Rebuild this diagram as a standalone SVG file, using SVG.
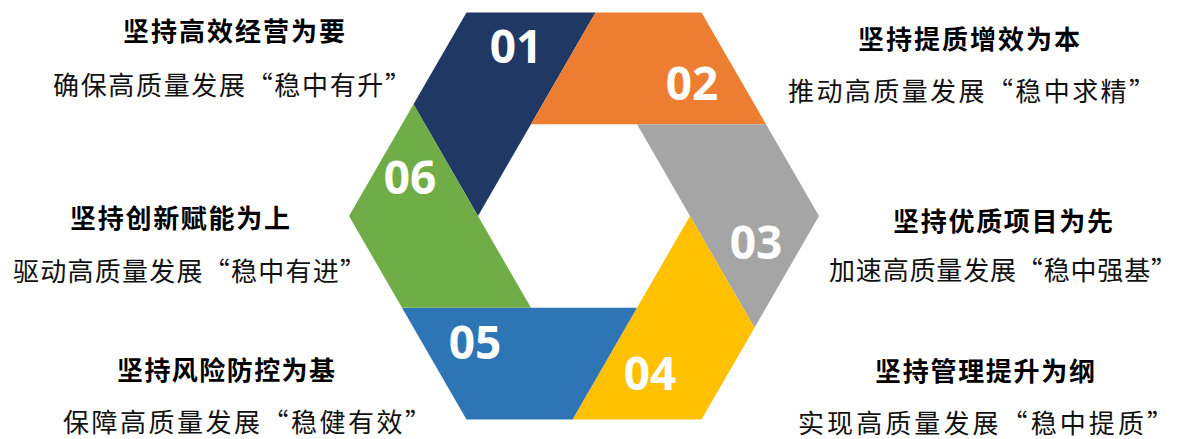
<svg xmlns="http://www.w3.org/2000/svg" width="1179" height="439" viewBox="0 0 1179 439">
<style>
.num{font-family:"Open Sans","DejaVu Sans",sans-serif;font-weight:700;font-size:46px;fill:#fff;text-anchor:middle}
.ttl{font-family:"Noto Sans CJK SC","Noto Sans",sans-serif;font-weight:700;font-size:26px;fill:#000}
.sub{font-family:"Noto Sans CJK SC","Noto Sans",sans-serif;font-weight:400;font-size:26px;fill:#111}
</style>
<rect width="1179" height="439" fill="#fff"/>
<g id="seg01"><polygon points="466.5,12.5 595.5,12.5 478,216 413.5,104.3" fill="#203864"/><text class="num" x="516" y="63">01</text></g>
<g id="seg02"><polygon points="701.5,12.5 766,124.2 531,124.2 595.5,12.5" fill="#ED7D31"/><text class="num" x="692" y="100">02</text></g>
<g id="seg03"><polygon points="819,216 754.5,327.7 637,124.2 766,124.2" fill="#A5A5A5"/><text class="num" x="756" y="259">03</text></g>
<g id="seg04"><polygon points="701.5,419.5 572.5,419.5 690,216 754.5,327.7" fill="#FFC000"/><text class="num" x="650" y="390">04</text></g>
<g id="seg05"><polygon points="466.5,419.5 402,307.8 637,307.8 572.5,419.5" fill="#2E75B6"/><text class="num" x="475" y="359">05</text></g>
<g id="seg06"><polygon points="349,216 413.5,104.3 531,307.8 402,307.8" fill="#70AD47"/><text class="num" x="410" y="194">06</text></g>
<g id="label01"><text class="ttl" x="123" y="41" textLength="222" lengthAdjust="spacing">坚持高效经营为要</text><text class="sub" x="53" y="95" textLength="358" lengthAdjust="spacing">确保高质量发展“稳中有升”</text></g>
<g id="label02"><text class="ttl" x="858" y="49" textLength="222" lengthAdjust="spacing">坚持提质增效为本</text><text class="sub" x="788" y="101" textLength="367" lengthAdjust="spacing">推动高质量发展“稳中求精”</text></g>
<g id="label03"><text class="ttl" x="893" y="231" textLength="220" lengthAdjust="spacing">坚持优质项目为先</text><text class="sub" x="829" y="280" textLength="348" lengthAdjust="spacing">加速高质量发展“稳中强基”</text></g>
<g id="label04"><text class="ttl" x="875" y="381" textLength="220" lengthAdjust="spacing">坚持管理提升为纲</text><text class="sub" x="798" y="433" textLength="375" lengthAdjust="spacing">实现高质量发展“稳中提质”</text></g>
<g id="label05"><text class="ttl" x="117" y="380" textLength="218" lengthAdjust="spacing">坚持风险防控为基</text><text class="sub" x="63" y="432" textLength="368" lengthAdjust="spacing">保障高质量发展“稳健有效”</text></g>
<g id="label06"><text class="ttl" x="70" y="228" textLength="220" lengthAdjust="spacing">坚持创新赋能为上</text><text class="sub" x="13" y="281" textLength="353" lengthAdjust="spacing">驱动高质量发展“稳中有进”</text></g>
<g id="connectors"/>
</svg>
